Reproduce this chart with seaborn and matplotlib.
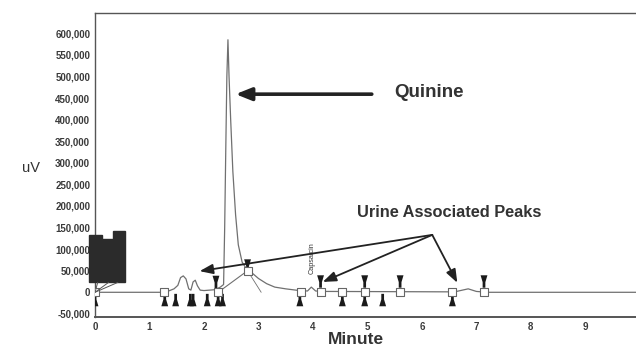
import matplotlib
matplotlib.use("Agg")
import matplotlib.pyplot as plt
from matplotlib.path import Path
import seaborn as sns
import pandas as pd

# ---- data ----
trace_min = [0.0, 1.25, 1.35, 1.45, 1.52, 1.57, 1.62, 1.67, 1.72, 1.76, 1.80, 1.84, 1.88, 1.93,
             2.00, 2.20, 2.30, 2.36, 2.38, 2.40, 2.42, 2.44, 2.46, 2.49, 2.53, 2.58, 2.63, 2.70,
             2.79, 2.88, 3.00, 3.15, 3.30, 3.50, 3.75, 3.90, 3.97, 4.05, 4.20, 6.60, 6.85, 7.00,
             7.20, 9.93]
trace_uv = [0, 0, 3000, 8000, 16000, 34000, 38000, 31000, 8000, 5000, 24000, 28000, 15000, 5000,
            4000, 6000, 12000, 18000, 150000, 330000, 500000, 585000, 500000, 400000, 280000,
            180000, 110000, 70000, 52000, 45000, 32000, 20000, 12000, 8000, 4000, 3000, 12000,
            3000, 2000, 1000, 8000, 2000, 0, 0]

square_min = [0.0, 1.27, 2.26, 2.80, 3.79, 4.14, 4.54, 4.95, 5.60, 6.56, 7.14]
square_uv = [0, 0, 0, 50000, 0, 0, 0, 0, 0, 0, 0]

up_tri_min = [0.0, 1.28, 1.48, 1.75, 1.80, 2.06, 2.26, 2.34, 3.76, 4.54, 4.95, 5.28, 6.56]
down_tri_min = [2.22, 2.80, 4.14, 4.95, 5.60, 7.14]
down_tri_uv = [24000, 62000, 25000, 25000, 25000, 25000]

block_min = [-0.11, -0.11, 0.13, 0.13, 0.33, 0.33, 0.55, 0.55]
block_uv = [23000, 132000, 132000, 123000, 123000, 141000, 141000, 23000]

yticks = list(range(-50000, 600001, 50000))
xticks = list(range(0, 10))

# ---- figure ----
sns.set_theme(style="white")
plt.rcParams["font.family"] = ["Liberation Sans", "DejaVu Sans"]

fig = plt.figure(figsize=(6.36, 3.47), dpi=100)
ax = fig.add_axes([0.1494, 0.0865, 0.8506, 0.876])

df = pd.DataFrame({"Minute": trace_min, "uV": trace_uv})
sns.lineplot(data=df, x="Minute", y="uV", ax=ax, color="#707070", lw=0.9, sort=False,
             estimator=None)

# integration baseline lines
ax.plot([square_min[2], square_min[3]], [square_uv[2], square_uv[3]], color="#707070", lw=0.8)
ax.plot([square_min[3], 3.05], [square_uv[3], 0], color="#707070", lw=0.6)

# solvent-front block
ax.fill(block_min, block_uv, color="#2b2b2b", zorder=6, clip_on=False)
ax.plot([0.0, 0.25], [0, 23000], color="#555555", lw=0.7, zorder=6)
ax.plot([0.0, 0.42], [0, 23000], color="#555555", lw=0.7, zorder=6)
ax.plot([0.0, 0.05], [0, 23000], color="#555555", lw=0.7, zorder=6)

up_marker = Path([(-0.55, -1), (0.55, -1), (0.22, 0.1), (0.22, 1), (-0.22, 1), (-0.22, 0.1), (-0.55, -1)])
down_marker = Path([(-0.55, 1), (0.55, 1), (0.22, -0.1), (0.22, -1), (-0.22, -1), (-0.22, -0.1), (-0.55, 1)])

sns.scatterplot(x=up_tri_min, y=[-18000] * len(up_tri_min), ax=ax, marker=up_marker,
                s=80, color="#1a1a1a", edgecolor="none", zorder=5)
sns.scatterplot(x=down_tri_min, y=down_tri_uv, ax=ax, marker=down_marker,
                s=80, color="#1a1a1a", edgecolor="none", zorder=5)
sns.scatterplot(x=square_min, y=square_uv, ax=ax, marker="s", s=28,
                facecolor="white", edgecolor="#666666", linewidth=0.8, zorder=5)

ax.set_xlim(0, 9.93)
ax.set_ylim(-57200, 647000)
ax.set_xticks(xticks)
ax.set_xticklabels([str(t) for t in xticks])
ax.set_yticks(yticks)
ax.set_yticklabels([f"{t:,}" for t in yticks])
ax.tick_params(axis="both", labelsize=7, colors="#333333", length=2, width=0.6, pad=1.5)
for lab in ax.get_xticklabels() + ax.get_yticklabels():
    lab.set_fontweight("bold")
    lab.set_color("#3a3a3a")
ax.set_xlabel("")
ax.set_ylabel("")
for side in ["left", "top", "bottom"]:
    ax.spines[side].set_color("#555555")
    ax.spines[side].set_linewidth(1.0)
ax.spines["right"].set_visible(False)
ax.spines["bottom"].set_linewidth(1.4)

# labels
fig.text(356 / 636, 1 - 340 / 347, "Minute", ha="center", va="center",
         fontsize=12.5, fontweight="bold", color="#333333")
fig.text(31 / 636, 1 - 168 / 347, "uV", ha="center", va="center",
         fontsize=10.5, color="#333333")

# annotations
ax.annotate("", xy=(2.58, 459000), xytext=(5.08, 459000),
            arrowprops=dict(arrowstyle="-|>,head_length=0.95,head_width=0.38",
                            mutation_scale=10, lw=2.6, color="#222222", shrinkA=0, shrinkB=0))
ax.text(5.50, 462000, "Quinine", ha="left", va="center", fontsize=13.5,
        fontweight="bold", color="#333333")
ax.text(4.80, 184000, "Urine Associated Peaks", ha="left", va="center", fontsize=11.8,
        fontweight="bold", color="#333333")
origin = (6.19, 133000)
for head in [(1.92, 49000), (4.18, 24000), (6.65, 22000)]:
    ax.annotate("", xy=head, xytext=origin,
                arrowprops=dict(arrowstyle="-|>,head_length=0.8,head_width=0.3",
                                mutation_scale=10, lw=1.3, color="#222222",
                                shrinkA=0, shrinkB=0))
ax.text(3.99, 78000, "Capsaicin", rotation=90, ha="center", va="center", fontsize=5.2,
        color="#333333")

fig.savefig("out.png", dpi=100)
